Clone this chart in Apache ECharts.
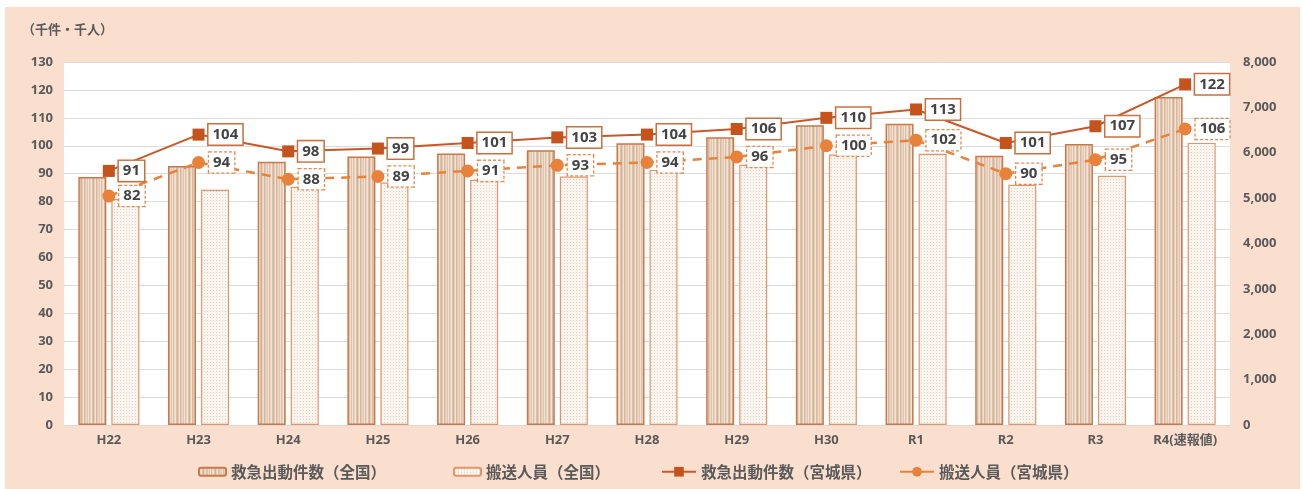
<!DOCTYPE html>
<html><head><meta charset="utf-8">
<script src="https://cdn.jsdelivr.net/npm/echarts@6/dist/echarts.min.js"></script>
<style>
html,body{margin:0;padding:0;background:#fff;}
#c{position:absolute;left:5px;top:7px;width:1295px;height:482px;}
</style></head>
<body><div id="c"></div>
<script>
const categories = ['H22','H23','H24','H25','H26','H27','H28','H29','H30','R1','R2','R3','R4(速報値)'];
const nationalDispatch = [5463,5707,5802,5916,5985,6055,6210,6342,6608,6640,5934,6194,7230];
const nationalTransport = [4979,5182,5250,5346,5406,5478,5622,5736,5961,5979,5293,5492,6217];
const miyagiDispatch = [91,104,98,99,101,103,104,106,110,113,101,107,122];
const miyagiTransport = [82,94,88,89,91,93,94,96,100,102,90,95,106];

function stripePattern(){
  const cols=['#dcbfa6','#e9d5c2','#f1e4d7','#dec3aa','#d2b094','#e6cfba','#efe0d1','#d8b99f','#e2c8b1','#ecd9c7','#e0c4ac','#f0e3d6'];
  const cv=document.createElement('canvas'); cv.width=cols.length; cv.height=4;
  const ctx=cv.getContext('2d');
  cols.forEach((c,i)=>{ctx.fillStyle=c;ctx.fillRect(i,0,1,4);});
  return cv;
}
function dotPattern(){
  const cv=document.createElement('canvas'); cv.width=3; cv.height=3;
  const ctx=cv.getContext('2d');
  ctx.fillStyle='#faf4ef';ctx.fillRect(0,0,3,3);
  ctx.fillStyle='#dfcfc1';ctx.fillRect(1,1,1,1);
  return cv;
}
const stripe={image:stripePattern(),repeat:'repeat'};
const dots={image:dotPattern(),repeat:'repeat'};
const fontJP='"Noto Sans CJK JP","Noto Sans",sans-serif';
const txt='#5a5a5a';

const chart=echarts.init(document.getElementById('c'));
const legendBase={orient:'horizontal',top:452,textStyle:{fontSize:15.5,color:txt,fontFamily:fontJP,fontWeight:'bold'},itemGap:0};
chart.setOption({
  backgroundColor:'#fadfcf',
  animation:false,
  textStyle:{fontFamily:fontJP},
  graphic:[{type:'text',left:17,top:16,style:{text:'（千件・千人）',fontSize:13,fontWeight:'bold',fill:txt,fontFamily:fontJP}}],
  legend:[
    Object.assign({},legendBase,{left:188,data:['救急出動件数（全国）'],itemWidth:27,itemHeight:8}),
    Object.assign({},legendBase,{left:443,data:['搬送人員（全国）'],itemWidth:27,itemHeight:8}),
    Object.assign({},legendBase,{left:651,data:['救急出動件数（宮城県）'],itemWidth:34,itemHeight:12}),
    Object.assign({},legendBase,{left:889,data:[{name:'搬送人員（宮城県）',lineStyle:{type:'solid'}}],itemWidth:34,itemHeight:12})
  ],
  grid:{left:59,top:55,right:70,bottom:64,show:true,backgroundColor:'#fff',borderWidth:0},
  xAxis:{type:'category',data:categories,
    axisLine:{lineStyle:{color:'#d9d9d9'}},axisTick:{show:false},
    axisLabel:{color:txt,fontSize:13,margin:9,fontWeight:'bold',fontFamily:'"Noto Sans","Noto Sans CJK JP",sans-serif'}},
  yAxis:[
    {type:'value',min:0,max:130,interval:10,
     axisLabel:{color:txt,fontSize:13,margin:11,fontWeight:'bold',fontFamily:'"Noto Sans",sans-serif'},
     axisLine:{show:false},axisTick:{show:false},
     splitLine:{lineStyle:{color:'#dcdcdc',width:1}}},
    {type:'value',min:0,max:8000,interval:1000,
     axisLabel:{color:txt,fontSize:13,margin:13,fontWeight:'bold',fontFamily:'"Noto Sans",sans-serif',
       formatter:v=>v.toLocaleString('en-US')},
     axisLine:{show:false},axisTick:{show:false},splitLine:{show:false}}
  ],
  series:[
    {name:'救急出動件数（全国）',type:'bar',yAxisIndex:1,data:nationalDispatch,barWidth:28,barGap:'18%',
     itemStyle:{color:stripe,borderColor:'#c8784a',borderWidth:1.5}},
    {name:'搬送人員（全国）',type:'bar',yAxisIndex:1,data:nationalTransport,barWidth:28,
     itemStyle:{color:dots,borderColor:'#e3956a',borderWidth:1.2}},
    {name:'搬送人員（宮城県）',type:'line',yAxisIndex:0,data:miyagiTransport,z:5,
     symbol:'circle',symbolSize:13,
     lineStyle:{color:'#e8823a',width:2.5,type:[9,7]},
     itemStyle:{color:'#e8823a'},
     label:{show:true,position:'right',distance:4,color:'#444',fontSize:15,fontWeight:'bold',fontFamily:'"Noto Sans",sans-serif',
       backgroundColor:'#fff',borderColor:'#e08a52',borderWidth:1.3,borderType:[3,2],padding:[3,4,2,4]}},
    {name:'救急出動件数（宮城県）',type:'line',yAxisIndex:0,data:miyagiDispatch,z:6,
     symbol:'rect',symbolSize:12,
     lineStyle:{color:'#c8582a',width:2},
     itemStyle:{color:'#c4531c'},
     label:{show:true,position:'right',distance:4,color:'#444',fontSize:15,fontWeight:'bold',fontFamily:'"Noto Sans",sans-serif',
       backgroundColor:'#fff',borderColor:'#c8703e',borderWidth:1.5,padding:[3,4,2,4]}}
  ]
});
</script></body></html>
